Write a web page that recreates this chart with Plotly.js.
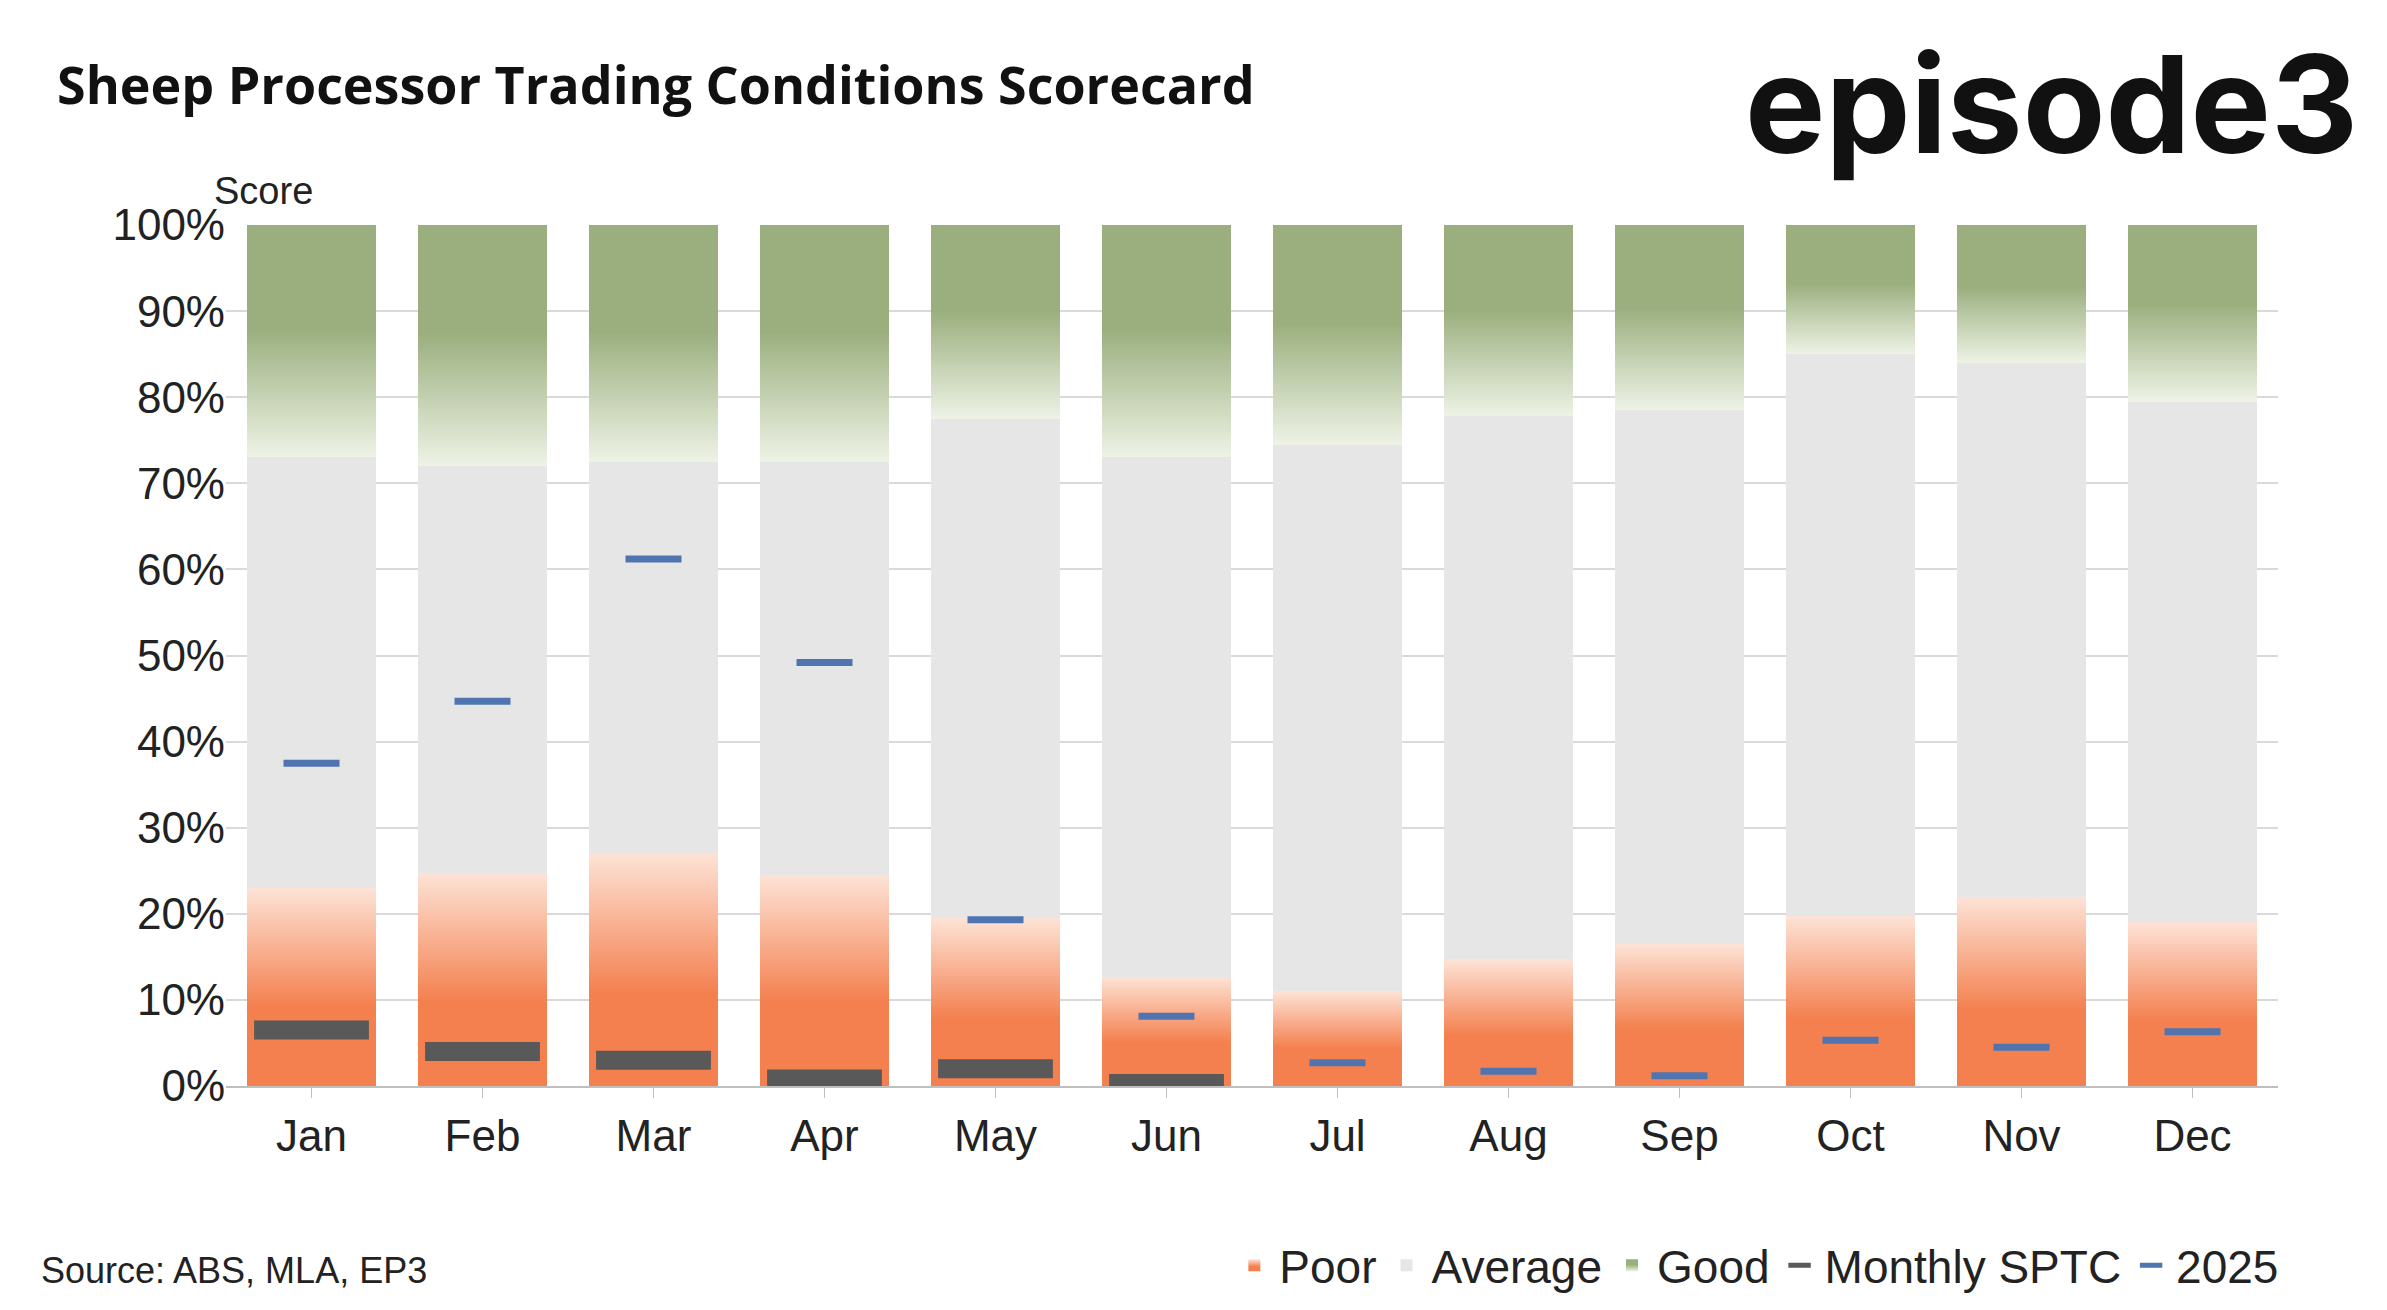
<!DOCTYPE html>
<html>
<head>
<meta charset="utf-8">
<script src="https://cdn.plot.ly/plotly-3.0.1.min.js"></script>
<style>body{margin:0;background:#fff}#chart{width:2387px;height:1310px}</style>
</head>
<body>
<div id="chart"></div>
<script>
var months = ['Jan','Feb','Mar','Apr','May','Jun','Jul','Aug','Sep','Oct','Nov','Dec'];
var poor    = [23, 24.7, 27, 24.5, 19.5, 12.7, 11, 14.7, 16.5, 19.7, 22, 19];
var average = [50, 47.3, 45.5, 48, 58, 60.3, 63.5, 63.1, 62, 65.3, 62, 60.5];
var good    = [27, 28, 27.5, 27.5, 22.5, 27, 25.5, 22.2, 21.5, 15, 16, 20.5];
var monthlySptc = [6.5, 4, 3, 0.8, 2, 0.3, null, null, null, null, null, null];
var y2025 = [37.5, 44.7, 61.2, 49.2, 19.3, 8.1, 2.7, 1.7, 1.2, 5.3, 4.5, 6.3];

var font = 'Liberation Sans, Arial, sans-serif';

var traces = [
  {x: months, y: poor, name: 'Poor', type: 'bar', marker: {color: '#F4804F'}},
  {x: months, y: average, name: 'Average', type: 'bar', marker: {color: '#E6E6E6'}},
  {x: months, y: good, name: 'Good', type: 'bar', marker: {color: '#9BAF7E'}},
  {x: months, y: monthlySptc, name: 'Monthly SPTC', type: 'scatter', mode: 'markers',
   marker: {symbol: 'line-ew', size: 82, line: {width: 19, color: '#595959'}}},
  {x: months, y: y2025, name: '2025', type: 'scatter', mode: 'markers',
   marker: {symbol: 'line-ew', size: 40, line: {width: 7, color: '#4F74B0'}}}
];

var layout = {
  width: 2387, height: 1310,
  margin: {l: 226, r: 109, t: 225, b: 224},
  barmode: 'stack', bargap: 0.24,
  showlegend: true,
  legend: {orientation: 'h', xref: 'container', yref: 'container', x: 0.957, xanchor: 'right',
           y: 0.034, yanchor: 'middle',
           font: {family: font, size: 46, color: '#222'}, itemwidth: 40, traceorder: 'normal'},
  font: {family: font, color: '#222'},
  xaxis: {range: [-0.5, 11.5], tickfont: {size: 44}, showline: true, linecolor: '#bfbfbf', linewidth: 2,
          automargin: false, ticks: 'outside', ticklen: 10, tickcolor: '#bfbfbf'},
  yaxis: {range: [0, 100], dtick: 10, ticksuffix: '%', tickfont: {size: 44}, automargin: false,
          gridcolor: '#d9d9d9', gridwidth: 2, zeroline: false},
  annotations: [
    {text: '<b>Sheep Processor Trading Conditions Scorecard</b>', xref: 'paper', yref: 'paper',
     x: -0.0833, y: 1.164, xanchor: 'left', yanchor: 'middle', showarrow: false,
     font: {family: 'Open Sans, sans-serif', size: 52, color: '#111'}},
    {text: '<b>episode3</b>', xref: 'paper', yref: 'paper', x: 1.04, y: 1.141,
     xanchor: 'right', yanchor: 'middle', showarrow: false,
     font: {family: 'Inter, sans-serif', size: 135, color: '#111'}},
    {text: 'Score', xref: 'paper', yref: 'paper', x: -0.007, y: 1.04,
     xanchor: 'left', yanchor: 'middle', showarrow: false, font: {size: 38}},
    {text: 'Source: ABS, MLA, EP3', xref: 'paper', yref: 'paper', x: -0.091, y: -0.214,
     xanchor: 'left', yanchor: 'middle', showarrow: false, font: {size: 36}}
  ]
};

Plotly.newPlot('chart', traces, layout, {displayModeBar: false}).then(function (gd) {
  var svg = gd.querySelector('svg.main-svg');
  var ns = 'http://www.w3.org/2000/svg';
  var defs = document.createElementNS(ns, 'defs');
  function grad(id, stops) {
    var g = document.createElementNS(ns, 'linearGradient');
    g.setAttribute('id', id);
    g.setAttribute('x1', '0'); g.setAttribute('y1', '1');
    g.setAttribute('x2', '0'); g.setAttribute('y2', '0');
    stops.forEach(function (s) {
      var st = document.createElementNS(ns, 'stop');
      st.setAttribute('offset', s[0]);
      st.setAttribute('stop-color', s[1]);
      g.appendChild(st);
    });
    defs.appendChild(g);
  }
  grad('gPoor', [[0, '#F4804F'], [0.4, '#F4804F'], [1, '#FDE3D6']]);
  grad('gGood', [[0, '#EEF3E6'], [0.55, '#9BAF7E'], [1, '#9BAF7E']]);
  svg.insertBefore(defs, svg.firstChild);
  var groups = gd.querySelectorAll('.barlayer .trace');
  var ids = ['gPoor', null, 'gGood'];
  groups.forEach(function (tg, i) {
    if (!ids[i]) return;
    tg.querySelectorAll('path').forEach(function (p) {
      p.style.fill = 'url(#' + ids[i] + ')';
    });
  });
  var leg = gd.querySelectorAll('.legend .traces');
  leg.forEach(function (t, i) {
    if (!ids[i]) return;
    t.querySelectorAll('.legendpoints path').forEach(function (p) {
      p.style.fill = 'url(#' + ids[i] + ')';
    });
  });
});
</script>
</body>
</html>
